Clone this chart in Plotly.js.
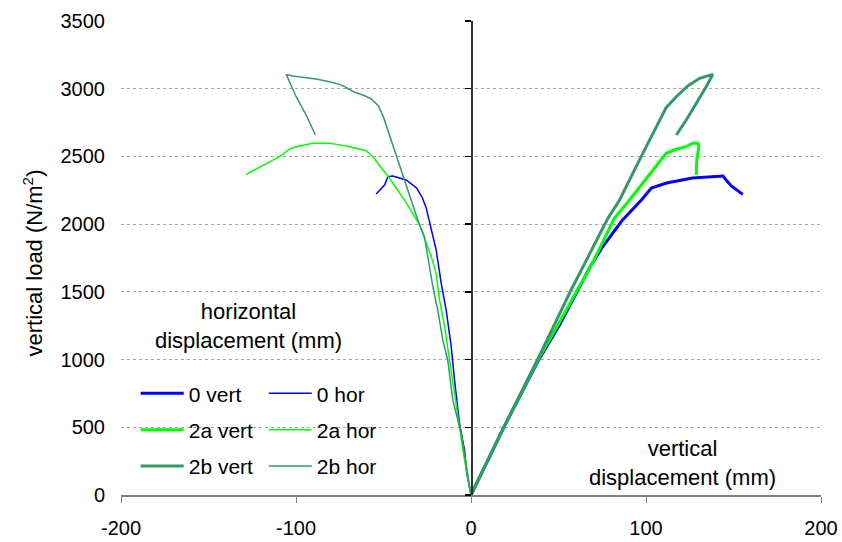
<!DOCTYPE html>
<html>
<head>
<meta charset="utf-8">
<script src="https://cdn.plot.ly/plotly-3.0.1.min.js"></script>
<style>html,body{margin:0;padding:0;background:#fff;}#chart{width:842px;height:542px;}</style>
</head>
<body>
<div id="chart"></div>
<script>
// ---- data (mm, N/m2) ----
const vert0_x = [0, 18, 39, 50.6, 67.7, 75.1, 86.6, 97.4, 103.1, 111.7, 126.6, 142, 144, 145.8, 148.7, 155.3];
const vert0_y = [0, 480, 1005, 1255, 1676, 1831, 2031, 2178, 2267, 2304, 2341, 2355, 2355, 2326, 2282, 2220];

const vert2a_x = [0, 18, 39, 50.6, 69.4, 82, 90.6, 111.5, 117.3, 123, 126.7, 129.6, 130.2, 129, 128.7];
const vert2a_y = [0, 480, 1015, 1277, 1713, 2045, 2178, 2523, 2553, 2572, 2597, 2597, 2572, 2474, 2363];

const vert2b_x = [0, 18, 39, 57.2, 78.2, 84.9, 96.3, 105, 111.5, 117.3, 123.9, 130.6, 138.2, 134.4, 126.7, 123, 117.3];
const vert2b_y = [0, 480, 1025, 1514, 2043, 2178, 2474, 2700, 2860, 2941, 3020, 3077, 3106, 3015, 2843, 2769, 2658];

const hor0_x = [0, -2.4, -3.7, -6.6, -9.4, -11.3, -14.2, -17, -19.9, -23.7, -25.6, -27.8, -31, -37, -44.7, -47.5, -49.4, -54.2];
const hor0_y = [0, 160, 332, 531, 849, 1095, 1366, 1563, 1809, 2006, 2120, 2195, 2265, 2326, 2355, 2350, 2289, 2223];

const hor2a_x = [0, -3.7, -6.6, -9.4, -12.3, -15.1, -18, -19.9, -22.7, -25.6, -29.4, -33.3, -38, -46.6, -56.1, -59.9, -65.6, -71.3, -77, -80.9, -90.4, -99.9, -103.7, -109.4, -128.5];
const hor2a_y = [0, 258, 504, 751, 997, 1243, 1440, 1637, 1760, 1858, 1994, 2080, 2178, 2339, 2498, 2542, 2560, 2577, 2589, 2597, 2597, 2572, 2553, 2498, 2368];

const hor2b_x = [0, -2.4, -5.6, -10.4, -13.3, -16.1, -19, -21.8, -23.7, -26.6, -30.4, -34.2, -37, -42.7, -46.6, -50, -53, -57, -61, -66.6, -72.3, -75.1, -80.9, -88.5, -101.8, -105.6, -99.9, -94.2, -88.9];
const hor2b_y = [0, 209, 456, 701, 997, 1144, 1366, 1538, 1686, 1907, 2031, 2178, 2276, 2498, 2658, 2790, 2875, 2925, 2950, 2974, 3015, 3032, 3052, 3072, 3094, 3106, 2941, 2806, 2658];

const seriesNames = ['0 vert', '2a vert', '2b vert', '0 hor', '2a hor', '2b hor'];
const xTicks = [-200, -100, 0, 100, 200];
const yTicks = [0, 500, 1000, 1500, 2000, 2500, 3000, 3500];

const BLUE = '#0000ff', LIME = '#00ff00', SEA = '#339966';
const FONT = '"Liberation Sans", Arial, sans-serif';

function tr(x, y, name, color, width, legend, group, yax) {
  return {x: x, y: y, name: name, type: 'scatter', mode: 'lines',
    line: {color: color, width: width}, legend: legend, legendgroup: group,
    yaxis: yax, hoverinfo: 'skip'};
}

const data = [
  tr(hor0_x, hor0_y, seriesNames[3], BLUE, 1.5, 'legend2', 'h0', 'y'),
  tr(hor2a_x, hor2a_y, seriesNames[4], LIME, 1.5, 'legend2', 'h2a', 'y'),
  tr(hor2b_x, hor2b_y, seriesNames[5], SEA, 1.5, 'legend2', 'h2b', 'y'),
  tr(vert0_x, vert0_y, seriesNames[0], BLUE, 3, 'legend', 'v0', 'y2'),
  tr(vert2a_x, vert2a_y, seriesNames[1], LIME, 3, 'legend', 'v2a', 'y2'),
  tr(vert2b_x, vert2b_y, seriesNames[2], SEA, 3, 'legend', 'v2b', 'y2')
];

const legendCommon = {
  orientation: 'v', traceorder: 'grouped', tracegroupgap: 6,
  bgcolor: 'rgba(0,0,0,0)', borderwidth: 0,
  font: {family: FONT, size: 21, color: '#000'},
  xanchor: 'left', yanchor: 'top', itemwidth: 43
};

const layout = {
  width: 842, height: 542,
  margin: {l: 121, r: 21, t: 21, b: 47, pad: 0},
  paper_bgcolor: '#fff', plot_bgcolor: '#fff',
  font: {family: FONT, size: 20, color: '#000'},
  showlegend: true,
  legend: Object.assign({}, legendCommon, {x: 0.021, y: 0.257}),
  legend2: Object.assign({}, legendCommon, {x: 0.204, y: 0.257}),
  xaxis: {
    range: [-200, 200], tickvals: xTicks, ticktext: xTicks.map(String),
    ticks: 'outside', ticklen: 6, tickwidth: 1, tickcolor: '#808080',
    showline: true, linecolor: '#808080', linewidth: 2,
    showgrid: false, zeroline: false, fixedrange: true,
    ticklabelstandoff: 8,
    tickfont: {family: FONT, size: 20, color: '#000'}
  },
  yaxis: {
    range: [0, 3500], tickvals: yTicks, ticktext: yTicks.map(String),
    ticks: '', showline: false, zeroline: false,
    showgrid: true, gridcolor: '#a6a6a6', gridwidth: 1, griddash: 'dot',
    ticklabelstandoff: 15,
    tickfont: {family: FONT, size: 20, color: '#000'},
    fixedrange: true
  },
  yaxis2: {
    overlaying: 'y', anchor: 'free', position: 0.5, side: 'left',
    range: [0, 3500], tickvals: yTicks,
    showticklabels: false, ticks: 'outside', ticklen: 6, tickwidth: 1.5, tickcolor: '#000',
    showline: true, linecolor: '#333', linewidth: 1.5,
    showgrid: false, zeroline: false, fixedrange: true
  },
  annotations: [
    {xref: 'paper', yref: 'paper', x: -0.126, y: 0.49, xanchor: 'center', yanchor: 'middle',
     textangle: -90, text: 'vertical load (N/m<sup>2</sup>)',
     showarrow: false, font: {family: FONT, size: 22, color: '#000'}},
    {xref: 'x', yref: 'y', x: -127, y: 1248, text: 'horizontal<br>displacement (mm)',
     showarrow: false, align: 'center', font: {family: FONT, size: 22, color: '#000'}},
    {xref: 'x', yref: 'y', x: 121, y: 238, text: 'vertical<br>displacement (mm)',
     showarrow: false, align: 'center', font: {family: FONT, size: 22, color: '#000'}}
  ]
};

Plotly.newPlot('chart', data, layout, {staticPlot: true, displayModeBar: false});
</script>
</body>
</html>
